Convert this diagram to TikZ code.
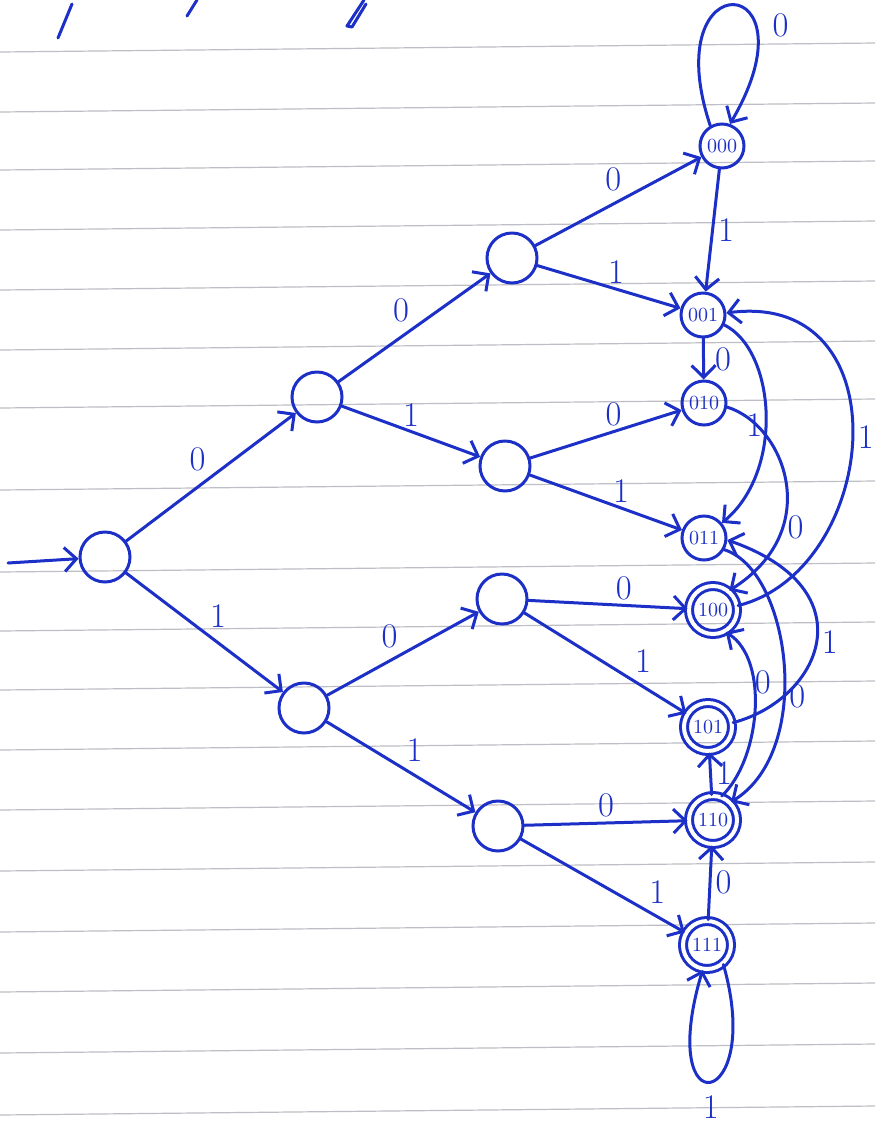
\documentclass[tikz,border=0pt]{standalone}
\usepackage{tikz}
\usepackage{xcolor}
\usetikzlibrary{arrows.meta}
\definecolor{penblue}{RGB}{28,48,200}
\definecolor{ruleline}{RGB}{190,190,198}

\begin{document}
\begin{tikzpicture}[x=0.5pt,y=-0.5pt,>={Straight Barb[length=6pt,width=12pt]},
  pen/.style={penblue,line width=1.5pt,line cap=round,line join=round},
  st/.style={circle,draw=penblue,line width=1.5pt,minimum size=25pt,inner sep=0pt},
  fst/.style={st,minimum size=22pt,font=\normalsize,text=penblue},
  acc/.style={fst,minimum size=24pt,double=white,double distance=2pt},
  lbl/.style={font=\LARGE,text=penblue,inner sep=2pt}]
  \useasboundingbox (0,0) rectangle (875,1131);
  \fill[white] (0,0) rectangle (875,1131);
  \foreach \y in {47,107,165,225,285,345,403,485,567,626,685,745,805,866,927,987,1048,1110}
    \draw[ruleline,line width=0.6pt] (0,\y+5) -- (875,\y-4);
  \draw[pen] (72,4) -- (58,38);
  \draw[pen] (197,0) -- (187,16);
  \draw[pen] (364,0) -- (347,26) -- (352,27) -- (366,4);

  \node[st] (q) at (105,557) {};
  \node[st] (q0) at (317,397) {};
  \node[st] (q1) at (304,708) {};
  \node[st] (q00) at (512,258) {};
  \node[st] (q01) at (505,466) {};
  \node[st] (q10) at (502,599) {};
  \node[st] (q11) at (498,826) {};
  \node[fst] (q000) at (722,146) {000};
  \node[fst] (q001) at (703,315) {001};
  \node[fst] (q010) at (704,403) {010};
  \node[fst] (q011) at (704,538) {011};
  \node[acc] (q100) at (713,610) {100};
  \node[acc] (q101) at (708,727) {101};
  \node[acc] (q110) at (713,820) {110};
  \node[acc] (q111) at (707,945) {111};
  \coordinate (start) at (8,563);

  \draw[pen,->] (start) -- (q);
  \draw[pen,->] (q) -- (q0) node[lbl,midway,above left]{0};
  \draw[pen,->] (q) -- (q1) node[lbl,midway,above right]{1};
  \draw[pen,->] (q0) -- (q00) node[lbl,midway,above left]{0};
  \draw[pen,->] (q0) -- (q01) node[lbl,midway,above]{1};
  \draw[pen,->] (q1) -- (q10) node[lbl,midway,above left]{0};
  \draw[pen,->] (q1) -- (q11) node[lbl,midway,above right]{1};
  \draw[pen,->] (q00) -- (q000) node[lbl,pos=0.55,above left]{0};
  \draw[pen,->] (q00) -- (q001) node[lbl,pos=0.55,above]{1};
  \draw[pen,->] (q01) -- (q010) node[lbl,pos=0.55,above]{0};
  \draw[pen,->] (q01) -- (q011) node[lbl,pos=0.6,above]{1};
  \draw[pen,->] (q10) -- (q100) node[lbl,pos=0.6,above]{0};
  \draw[pen,->] (q10) -- (q101) node[lbl,pos=0.65,above right]{1};
  \draw[pen,->] (q11) -- (q110) node[lbl,pos=0.5,above]{0};
  \draw[pen,->] (q11) -- (q111) node[lbl,pos=0.75,above right]{1};

  \draw[pen,->] (q000.120) .. controls (655,-40) and (820,-30) .. (q000.70)
    node[lbl,pos=0.7,right=6pt]{0};
  \draw[pen,->] (q000) -- (q001) node[lbl,midway,right]{1};
  \draw[pen,->] (q001) -- (q010) node[lbl,midway,right=3pt]{0};
  \draw[pen,->] (q001.-25) .. controls (775,350) and (785,470) .. (q011.40)
    node[lbl,pos=0.55,left=-1pt]{1};
  \draw[pen,->] (q010.-10) .. controls (785,425) and (825,530) .. (q100.50)
    node[lbl,pos=0.7,right]{0};
  \draw[pen,->] (q011.-30) .. controls (790,570) and (815,750) .. (q110.45)
    node[lbl,pos=0.6,right]{0};
  \draw[pen,->] (q101.10) .. controls (820,700) and (870,590) .. (q011.-5)
    node[lbl,pos=0.5,right]{1};
  \draw[pen,->] (q100.10) .. controls (880,570) and (905,290) .. (q001.5)
    node[lbl,pos=0.5,right]{1};
  \draw[pen,->] (q110.70) .. controls (760,760) and (770,660) .. (q100.-60)
    node[lbl,pos=0.65,right=-2pt]{0};
  \draw[pen,->] (q110) -- (q101) node[lbl,midway,right]{1};
  \draw[pen,->] (q111) -- (q110) node[lbl,midway,right]{0};
  \draw[pen,->] (q111.-50) .. controls (765,1110) and (655,1130) .. (q111.-100)
    node[lbl,pos=0.5,below=4pt]{1};
\end{tikzpicture}
\end{document}
